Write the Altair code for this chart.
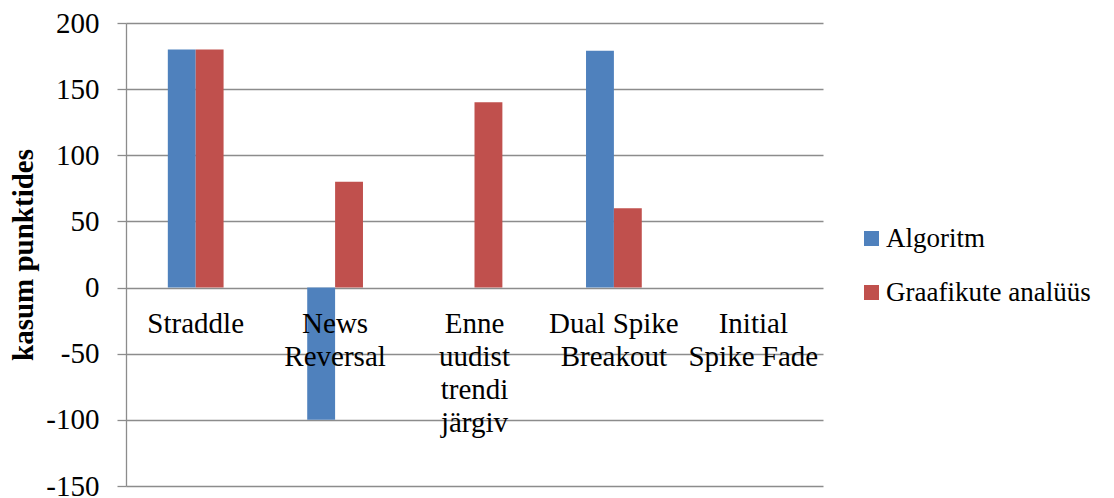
import altair as alt
import pandas as pd

categories = ["Straddle", "News Reversal", "Enne uudist trendi järgiv", "Dual Spike Breakout", "Initial Spike Fade"]
cat_labels = ["Straddle", "News\nReversal", "Enne\nuudist\ntrendi\njärgiv", "Dual Spike\nBreakout", "Initial\nSpike Fade"]
series = ["Algoritm", "Graafikute analüüs"]
algoritm = [180, -100, 0, 179, 0]
graafikute = [180, 80, 140, 60, 0]
y_ticks = [-150, -100, -50, 0, 50, 100, 150, 200]
colors = ["#4F81BD", "#C0504D"]

rows = []
for c, a, g in zip(categories, algoritm, graafikute):
    rows.append({"cat": c, "series": series[0], "value": a})
    rows.append({"cat": c, "series": series[1], "value": g})
df = pd.DataFrame(rows)
lab = pd.DataFrame({"cat": categories, "label": cat_labels, "zero": [0] * len(categories)})

FONT = "Liberation Serif"
FS = 29
xscale = alt.Scale(domain=categories, paddingInner=0.6, paddingOuter=0.3)
yscale = alt.Scale(domain=[-150, 200], nice=False, zero=False)

bars = alt.Chart(df).mark_bar().encode(
    x=alt.X("cat:N", scale=xscale, sort=categories, axis=None),
    xOffset=alt.XOffset("series:N", sort=series, scale=alt.Scale(paddingInner=0, paddingOuter=0)),
    y=alt.Y("value:Q", scale=yscale,
            axis=alt.Axis(values=y_ticks, grid=True, gridColor="#8c8c8c", gridWidth=1.3,
                          domainColor="#8c8c8c", domainWidth=1.3, tickColor="#8c8c8c", tickWidth=1.3,
                          tickSize=9, labelFont=FONT, labelFontSize=FS, labelColor="black",
                          labelExpr="replace(datum.label, '\u2212', '-')",
                          labelPadding=18, title="kasum punktides", titleFont=FONT, titleFontSize=FS,
                          titleFontWeight="bold", titleColor="black", titleX=-103, titleY=231.5,
                          titleBaseline="middle", titleAngle=270)),
    color=alt.Color("series:N", sort=series, scale=alt.Scale(domain=series, range=colors),
                    legend=alt.Legend(title=None, orient="none", legendX=732, legendY=202,
                                      symbolType="square", symbolSize=225, symbolStrokeWidth=0,
                                      labelFont=FONT, labelFontSize=27, labelColor="black",
                                      labelOffset=1, rowPadding=26, labelLimit=400)),
)

texts = alt.Chart(lab).mark_text(font=FONT, fontSize=FS, color="black", align="center",
                                 baseline="alphabetic", dy=45, lineBreak="\n", lineHeight=33).encode(
    x=alt.X("cat:N", scale=xscale, sort=categories, axis=None),
    y=alt.Y("zero:Q", scale=yscale),
    text="label:N",
)

chart = alt.layer(bars, texts).properties(
    width=697, height=463,
    background="white",
    autosize=alt.AutoSizeParams(type="none"),
    padding={"left": 118, "top": 15, "right": 283, "bottom": 12},
).configure_view(strokeWidth=0)

chart.save("out.html", embed_options={"renderer": "svg", "actions": False})
